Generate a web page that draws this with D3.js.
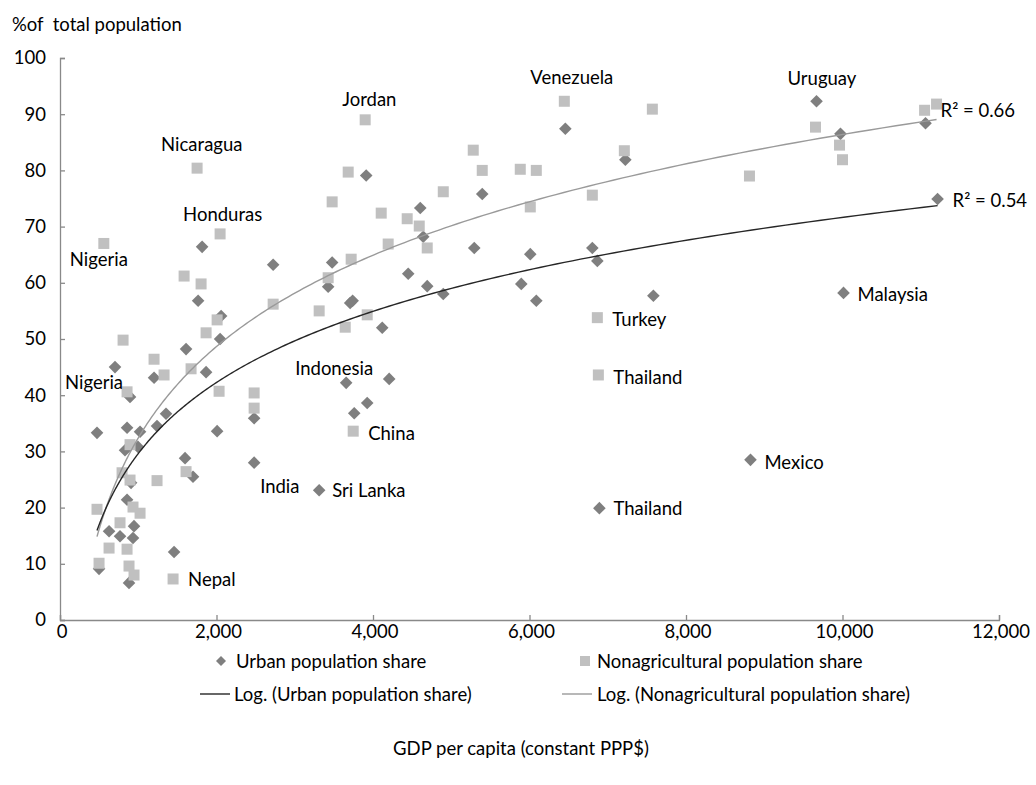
<!DOCTYPE html>
<html>
<head>
<meta charset="utf-8">
<script src="https://cdn.jsdelivr.net/npm/d3@7"></script>
<style>
  html, body { margin: 0; padding: 0; background: #fff; }
  svg { display: block; font-family: "Lato", "Open Sans", sans-serif; }
  text { white-space: pre; }
</style>
</head>
<body>
<svg id="chart" width="1036" height="785"></svg>
<script>
// GDP per capita (constant PPP$) and urban population share (%)
const urbanGdp   = [473, 499, 703, 627, 767, 831, 857, 857, 882, 895, 908, 933, 946, 997, 1023, 1202, 1240, 1355, 1458, 1598, 1611, 1700, 1765, 1816, 1867, 2008, 2046, 2059, 2481, 2481, 2724, 3312, 3427, 3478, 3657, 3708, 3740, 3760, 3913, 3926, 4118, 4207, 4450, 4604, 4642, 4693, 4898, 5294, 5396, 5895, 6010, 6087, 6458, 6803, 6867, 6893, 7225, 7583, 8824, 9668, 9974, 10013, 11061, 11215];
const urbanShare = [33.3, 9.1, 45.0, 15.8, 14.9, 30.2, 34.2, 21.4, 6.6, 39.7, 24.4, 14.6, 16.7, 30.8, 33.5, 43.1, 34.5, 36.7, 12.1, 28.8, 48.2, 25.5, 56.8, 66.4, 44.1, 33.6, 50.0, 54.1, 35.9, 28.0, 63.2, 23.1, 59.3, 63.6, 42.2, 56.4, 56.8, 36.8, 79.1, 38.6, 52.0, 42.9, 61.6, 73.3, 68.2, 59.4, 58.0, 66.2, 75.8, 59.8, 65.1, 56.8, 87.4, 66.2, 63.9, 19.9, 81.9, 57.7, 28.5, 92.3, 86.5, 58.2, 88.4, 74.9];

// GDP per capita (constant PPP$) and nonagricultural population share (%)
const nonagGdp   = [473, 499, 560, 627, 767, 793, 806, 857, 857, 882, 895, 895, 933, 946, 1023, 1202, 1240, 1330, 1445, 1586, 1611, 1675, 1752, 1803, 1867, 2008, 2033, 2046, 2481, 2481, 2724, 3312, 3427, 3478, 3645, 3683, 3721, 3747, 3900, 3926, 4105, 4194, 4437, 4591, 4693, 4898, 5281, 5396, 5882, 6010, 6087, 6445, 6803, 6867, 6880, 7212, 7570, 8811, 9655, 9962, 10000, 11049, 11202];
const nonagShare = [19.7, 10.1, 67.0, 12.8, 17.3, 26.2, 49.8, 40.6, 12.6, 9.6, 31.2, 24.9, 20.1, 8.0, 19.0, 46.4, 24.8, 43.6, 7.3, 61.2, 26.4, 44.7, 80.4, 59.8, 51.1, 53.4, 40.7, 68.7, 40.4, 37.7, 56.2, 55.0, 60.9, 74.4, 52.1, 79.7, 64.2, 33.6, 89.0, 54.3, 72.4, 66.9, 71.4, 70.1, 66.2, 76.2, 83.6, 80.0, 80.2, 73.5, 80.0, 92.3, 75.6, 53.8, 43.6, 83.5, 90.9, 79.0, 87.7, 84.5, 81.9, 90.7, 91.8];

// Axis ticks
const xTicks = [0, 2000, 4000, 6000, 8000, 10000, 12000];
const yTicks = [0, 10, 20, 30, 40, 50, 60, 70, 80, 90, 100];

// Country annotations: text, the point it sits beside, and its offset in px
const labelText  = ["Nigeria", "Nigeria", "Nicaragua", "Honduras", "Jordan", "Venezuela", "Uruguay", "Malaysia", "Turkey", "Thailand", "Mexico", "Thailand", "Indonesia", "China", "India", "Sri Lanka", "Nepal"];
const labelGdp   = [560, 703, 1752, 1816, 3900, 6445, 9668, 10013, 6867, 6880, 8824, 6893, 3657, 3747, 2481, 3312, 1445];
const labelShare = [67.0, 45.0, 80.4, 66.4, 89.0, 92.3, 92.3, 58.2, 53.8, 43.6, 28.5, 19.9, 42.2, 33.6, 28.0, 23.1, 7.3];
const labelDx    = [-34, -50, -36, -19, -23, -34, -29, 14, 15, 15, 14, 14, -51, 15, 6, 13, 15];
const labelDy    = [23, 22, -17, -26, -14, -17, -16, 8, 8, 9, 9, 7, -8, 9, 30, 7, 7];

// Goodness-of-fit labels for the two trend lines
const r2Text = ["R\u00b2 = 0.66", "R\u00b2 = 0.54"];

const svg = d3.select("#chart");
const margin = { left: 60, top: 58, right: 999, bottom: 620 };

const x = d3.scaleLinear().domain([0, 12000]).range([margin.left, margin.right]);
const y = d3.scaleLinear().domain([0, 100]).range([margin.bottom, margin.top]);

const axisColor = "#898989";
const urbanColor = "#7f7f7f";
const nonagColor = "#c0c0c0";
const urbanLine = "#262626";
const nonagLine = "#9a9a9a";
const fontSize = 18.5;
const textColor = "#000";

// Axes: ticks point into the plot area
const yAxis = svg.append("g")
  .attr("transform", `translate(${margin.left},0)`)
  .call(d3.axisRight(y).tickValues(yTicks).tickSize(5).tickFormat(""));
const xAxis = svg.append("g")
  .attr("transform", `translate(0,${margin.bottom})`)
  .call(d3.axisTop(x).tickValues(xTicks).tickSize(5).tickFormat(""));
[yAxis, xAxis].forEach(g => {
  g.select(".domain").attr("stroke", axisColor).attr("stroke-width", 1.3);
  g.selectAll(".tick line").attr("stroke", axisColor).attr("stroke-width", 1.3);
});

svg.append("g").selectAll("text").data(yTicks).join("text")
  .attr("x", 46).attr("y", d => y(d)).attr("dy", "0.35em")
  .attr("text-anchor", "end").attr("font-size", fontSize).attr("fill", textColor)
  .text(d => d);

svg.append("g").selectAll("text").data(xTicks).join("text")
  .attr("x", d => x(d) + 2).attr("y", 638)
  .attr("text-anchor", "middle").attr("font-size", fontSize).attr("fill", textColor)
  .text(d => d3.format(",")(d));

svg.append("text").attr("x", 12).attr("y", 31)
  .attr("font-size", fontSize).attr("fill", textColor)
  .text("%of  total population");

svg.append("text").attr("x", 521).attr("y", 755)
  .attr("text-anchor", "middle").attr("font-size", fontSize).attr("fill", textColor)
  .text("GDP per capita (constant PPP$)");

// Markers
const diamond = s => `M0,${-s}L${s},0L0,${s}L${-s},0Z`;
const urban = urbanGdp.map((g, i) => ({ gdp: g, share: urbanShare[i] }));
const nonag = nonagGdp.map((g, i) => ({ gdp: g, share: nonagShare[i] }));

svg.append("g").selectAll("path").data(urban).join("path")
  .attr("d", diamond(6.3))
  .attr("transform", d => `translate(${x(d.gdp)},${y(d.share)})`)
  .attr("fill", urbanColor);

svg.append("g").selectAll("rect").data(nonag).join("rect")
  .attr("x", d => x(d.gdp) - 5.5).attr("y", d => y(d.share) - 5.5)
  .attr("width", 11).attr("height", 11)
  .attr("fill", nonagColor);

// Logarithmic trend lines: share = a + b * ln(gdp), least squares
function logFit(pts) {
  const lx = pts.map(p => Math.log(p.gdp));
  const mx = d3.mean(lx), my = d3.mean(pts, p => p.share);
  let sxy = 0, sxx = 0;
  pts.forEach((p, i) => { sxy += (lx[i] - mx) * (p.share - my); sxx += (lx[i] - mx) ** 2; });
  const b = sxy / sxx, a = my - b * mx;
  const [lo, hi] = d3.extent(pts, p => p.gdp);
  return d3.range(0, 201).map(k => {
    const g = lo * Math.pow(hi / lo, k / 200);
    return { gdp: g, share: a + b * Math.log(g) };
  });
}
const line = d3.line().x(d => x(d.gdp)).y(d => y(d.share));

svg.append("path").datum(logFit(nonag)).attr("d", line)
  .attr("fill", "none").attr("stroke", nonagLine).attr("stroke-width", 1.4);
svg.append("path").datum(logFit(urban)).attr("d", line)
  .attr("fill", "none").attr("stroke", urbanLine).attr("stroke-width", 1.4);

// Country labels
svg.append("g").selectAll("text").data(labelText).join("text")
  .attr("x", (t, i) => x(labelGdp[i]) + labelDx[i])
  .attr("y", (t, i) => y(labelShare[i]) + labelDy[i])
  .attr("font-size", fontSize).attr("fill", textColor)
  .text(t => t);

// R-squared labels beside the last point of each series
svg.append("text").attr("x", x(11202) + 4).attr("y", y(91.8) + 13)
  .attr("font-size", fontSize).attr("fill", textColor).text(r2Text[0]);
svg.append("text").attr("x", x(11215) + 15).attr("y", y(74.9) + 8)
  .attr("font-size", fontSize).attr("fill", textColor).text(r2Text[1]);

// Legend
const lg = svg.append("g").attr("font-size", fontSize).attr("fill", textColor);
lg.append("path").attr("d", diamond(5)).attr("transform", "translate(221,661)").attr("fill", urbanColor);
lg.append("text").attr("x", 236).attr("y", 668).text("Urban population share");
lg.append("rect").attr("x", 580).attr("y", 656).attr("width", 10).attr("height", 10).attr("fill", nonagColor);
lg.append("text").attr("x", 597).attr("y", 668).text("Nonagricultural population share");
lg.append("line").attr("x1", 200).attr("x2", 230).attr("y1", 694).attr("y2", 694).attr("stroke", urbanLine).attr("stroke-width", 1.4);
lg.append("text").attr("x", 234).attr("y", 701).text("Log. (Urban population share)");
lg.append("line").attr("x1", 562).attr("x2", 592).attr("y1", 694).attr("y2", 694).attr("stroke", nonagLine).attr("stroke-width", 1.4);
lg.append("text").attr("x", 597).attr("y", 701).text("Log. (Nonagricultural population share)");
</script>
</body>
</html>
